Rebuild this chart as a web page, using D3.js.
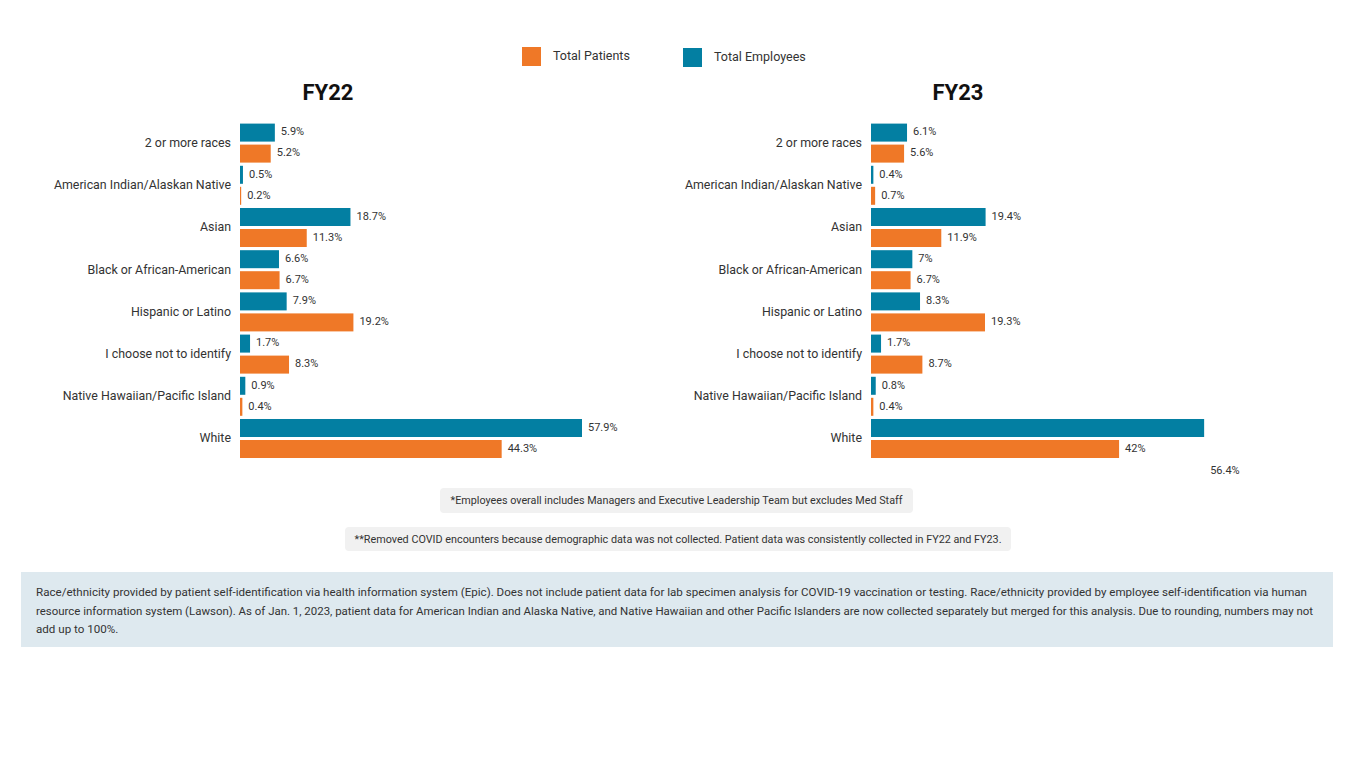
<!DOCTYPE html>
<html><head><meta charset="utf-8">
<script src="https://cdn.jsdelivr.net/npm/d3@7"></script>
<style>body{margin:0;background:#fff}svg{display:block}text{font-family:Roboto,"Liberation Sans",sans-serif}</style>
</head><body><svg id="c" width="1350" height="775"></svg>
<script>
const categories = ["2 or more races","American Indian/Alaskan Native","Asian","Black or African-American","Hispanic or Latino","I choose not to identify","Native Hawaiian/Pacific Island","White"];
const fy22Employees = [5.9,0.5,18.7,6.6,7.9,1.7,0.9,57.9];
const fy22Patients  = [5.2,0.2,11.3,6.7,19.2,8.3,0.4,44.3];
const fy23Employees = [6.1,0.4,19.4,7,8.3,1.7,0.8,56.4];
const fy23Patients  = [5.6,0.7,11.9,6.7,19.3,8.7,0.4,42];
const seriesNames = ["Total Patients","Total Employees"];
const panelTitles = ["FY22","FY23"];
const footnote1 = "*Employees overall includes Managers and Executive Leadership Team but excludes Med Staff";
const footnote2 = "**Removed COVID encounters because demographic data was not collected. Patient data was consistently collected in FY22 and FY23.";
const noteLines = [
 "Race/ethnicity provided by patient self-identification via health information system (Epic). Does not include patient data for lab specimen analysis for COVID-19 vaccination or testing. Race/ethnicity provided by employee self-identification via human",
 "resource information system (Lawson). As of Jan. 1, 2023, patient data for American Indian and Alaska Native, and Native Hawaiian and other Pacific Islanders are now collected separately but merged for this analysis. Due to rounding, numbers may not",
 "add up to 100%."
];
const ORANGE = "#EF7827", TEAL = "#037FA2", TXT = "#333333";

const svg = d3.select("#c");

// legend
const leg = [{name:seriesNames[0],c:ORANGE,x:522,y:47},{name:seriesNames[1],c:TEAL,x:683,y:48}];
leg.forEach(l=>{
  svg.append("rect").attr("x",l.x).attr("y",l.y).attr("width",19).attr("height",19).attr("fill",l.c);
  svg.append("text").attr("x",l.x+31).attr("y",l.y+9).attr("dy","0.35em").attr("font-size",12.5).attr("fill",TXT).text(l.name);
});

const panels = [
  {title:panelTitles[0], x0:240, tx:328, emp:fy22Employees, pat:fy22Patients},
  {title:panelTitles[1], x0:871, tx:958, emp:fy23Employees, pat:fy23Patients}
];
const y = d3.scaleBand().domain(categories).range([122, 122+8*42.2]).padding(0);
const ys = d3.scaleBand().domain(["emp","pat"]).range([0, y.bandwidth()]).paddingInner(0.143).paddingOuter(0.076);

panels.forEach((p,pi)=>{
  const x = d3.scaleLinear().domain([0,57.9]).range([p.x0, p.x0+342]);
  const g = svg.append("g");
  svg.append("text").attr("x",p.tx).attr("y",92).attr("dy","0.35em").attr("text-anchor","middle")
    .attr("font-size",22).attr("font-weight",700).attr("fill","#111").text(p.title);
  const axis = d3.axisLeft(y).tickSize(0).tickPadding(9);
  const ag = g.append("g").attr("transform",`translate(${p.x0},0)`).call(axis);
  ag.select(".domain").remove();
  ag.selectAll("text").attr("font-size",12.4).attr("fill",TXT).attr("dy","0.32em").style("font-family","Roboto, sans-serif");
  const rows = categories.map((c,i)=>({c, emp:p.emp[i], pat:p.pat[i], i}));
  [["emp",TEAL],["pat",ORANGE]].forEach(([k,col])=>{
    g.selectAll("rect."+k).data(rows).join("rect").attr("class",k)
      .attr("x",x(0)).attr("y",d=>y(d.c)+ys(k)).attr("width",d=>x(d[k])-x(0)).attr("height",ys.bandwidth())
      .attr("fill",col);
    g.selectAll("text.l"+k).data(rows).join("text").attr("class","l"+k)
      .attr("x",d=>x(d[k])+6)
      .attr("y",d=>{
        if(pi===1 && k==="emp" && d.i===7) return y(d.c)+ys("pat")+ys.bandwidth()/2+21;
        return y(d.c)+ys(k)+ys.bandwidth()/2-1;})
      .attr("dy","0.35em").attr("font-size",11).attr("fill",TXT).text(d=>d[k]+"%");
  });
});

// footnotes
function noteBox(txt, cx, yTop, w, h, tl){
  svg.append("rect").attr("x",cx-w/2).attr("y",yTop).attr("width",w).attr("height",h).attr("rx",4).attr("fill","#F1F1F1");
  svg.append("text").attr("x",cx).attr("y",yTop+h/2).attr("dy","0.35em").attr("text-anchor","middle")
    .attr("font-size",11).attr("fill",TXT).attr("textLength",tl).attr("lengthAdjust","spacingAndGlyphs").text(txt);
}
noteBox(footnote1, 676.5, 488, 473, 25, 452);
noteBox(footnote2, 678, 527, 666, 24, 647);

svg.append("rect").attr("x",21).attr("y",572).attr("width",1312).attr("height",75).attr("fill","#DEE9EF");
const lens = [1271, 1277, null];
noteLines.forEach((t,i)=>{
  const tx = svg.append("text").attr("x",36).attr("y",592+i*18.5).attr("dy","0.35em").attr("font-size",11.6).attr("fill",TXT).text(t);
  if(lens[i]) tx.attr("textLength",lens[i]).attr("lengthAdjust","spacingAndGlyphs");
});
</script></body></html>
